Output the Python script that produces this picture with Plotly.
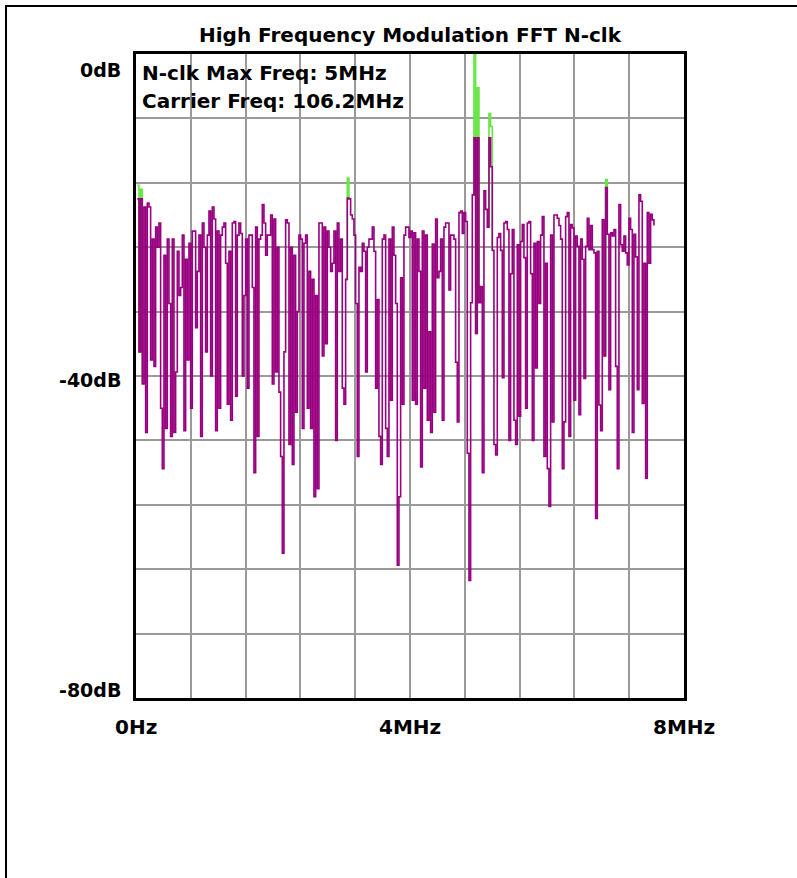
import numpy as np
import plotly.graph_objects as go

# ---------------- data ----------------
START_MHZ = 0.019          # first FFT bin shown
BIN_MHZ = 0.02433          # FFT bin width

level_db_a = [-18, -37, -18, -41, -19, -47, -18.5, -19, -38, -23,
              -38.8, -21.5, -24, -21, -44, -51.5, -25, -46.5, -23, -31,
              -47.5, -23, -47, -39.5, -24.5, -30, -29, -22.5, -46.8, -25.5,
              -38, -23.5, -44, -22, -22, -34, -27, -22.5, -47.5, -21,
              -24, -37, -22.5, -19.5, -40, -19, -20.5, -46.8, -22, -44,
              -22.5, -21.5, -21, -26, -43.5, -24.5, -45.5, -21, -20.8, -42.5,
              -22.5, -21, -22.3, -40, -30, -23, -41.5, -22.5, -22.5, -29,
              -52, -21.5, -47.5, -23, -22.5, -18.7, -21, -25, -22.5, -22.5]
level_db_b = [-20, -41, -20.5, -39.5, -24, -42, -50, -62, -37, -20.6,
              -21, -48.5, -24, -51, -25, -44.5, -32, -22.5, -23, -46.5,
              -23.5, -22.5, -44, -27, -46.5, -28, -55, -30, -54, -21,
              -21, -37.5, -21.5, -36, -22, -24, -27, -26, -22, -48,
              -21, -27, -23, -41.5, -43.5, -28, -17.9, -18, -20, -20.5,
              -22.5, -31, -50, -26.5, -27, -23.5, -24.5, -39.5, -24, -23,
              -23, -21.5, -24.5, -41.5, -30.5, -47.5, -51, -23, -22.5, -46.5,
              -50, -23, -43, -21.5, -25, -31, -63.5]
level_db_c = [-55, -27.8, -43.5, -22.5, -21.5, -21.5, -22.8, -22, -43, -22.2,
              -43.5, -23, -27, -51.3, -22, -41.5, -22.5, -45.5, -34.5, -47,
              -23.6, -44.5, -20.5, -27.8, -27, -23, -45.5, -21.5, -21, -21,
              -29.3, -22.5, -22.5, -23, -38.3, -45.7, -19.7, -19.5, -22.3, -19.7,
              -20.8, -49.6, -65.4, -30.9, -17.5, -10.4, -34.7, -10.4, -30.9, -28.9,
              -52, -17, -19.3, -21.5, -10.4, -14, -24.4, -48.5, -49.8, -22.8,
              -22.3, -24.4, -40.2, -21, -20.8, -21.8, -48, -27.3, -21.8, -45.5,
              -48.5, -23.7, -45, -23.3, -21.2, -25.3, -44, -21, -20.8, -27.3]
level_db_d = [-48, -23.5, -39, -23.3, -31, -22.5, -20.2, -50, -26, -51.5,
              -56.2, -22.5, -45.7, -20, -20, -20.4, -21.3, -23, -51.5, -45.7,
              -20.2, -19.7, -47.5, -21.2, -21.6, -43, -22.6, -23.9, -44.8, -23,
              -25.5, -40.3, -23.9, -20.4, -24.3, -21.3, -24.3, -24.7, -57.7, -24.5,
              -43.6, -46.8, -20.6, -37.5, -16.6, -22.4, -41.7, -22.2, -22.6, -21.8,
              -38.8, -51.5, -18.7, -23.7, -24.5, -22.6, -24.7, -26.2, -20.4, -21.8,
              -47, -22.4, -25.2, -41.7, -17.5, -18.3, -43.4, -26, -52.7, -19.7,
              -26, -19.9, -20.6, -21.3]

# peak-hold (green) values that rise above the live trace
peak_hold_bins = [0, 2, 126, 202, 204, 211, 212, 281]
peak_hold_db = [-16.3, -16.8, -15.4, 0, -4.2, -7.4, -9, -15.6]

x_tick_vals = [0, 4, 8]
x_tick_text = ["0Hz", "4MHz", "8MHz"]
y_tick_vals = [-2, -40.5, -79]
y_tick_text = ["0dB", "-40dB", "-80dB"]

title_text = "High Frequency Modulation FFT N-clk"
info_lines = ["N-clk Max Freq: 5MHz", "Carrier Freq: 106.2MHz"]

# ---------------- build ----------------
level_db = level_db_a + level_db_b + level_db_c + level_db_d
freq_mhz = START_MHZ + BIN_MHZ * np.arange(len(level_db))

# green peak-hold trace: only shown around the bins where it exceeds the live trace
hold_db = [None] * len(level_db)
for b, v in zip(peak_hold_bins, peak_hold_db):
    for nb in (b - 1, b + 1):
        if 0 <= nb < len(level_db) and hold_db[nb] is None:
            hold_db[nb] = level_db[nb]
    hold_db[b] = v

MAGENTA = "#990080"
GREEN = "#66e644"
GRID = "#9a9a9a"
FONT = "DejaVu Sans"

fig = go.Figure()
fig.add_trace(go.Scatter(x=freq_mhz, y=hold_db, mode="lines", connectgaps=False,
                         line=dict(color=GREEN, width=1.6, shape="hv"),
                         hoverinfo="skip"))
fig.add_trace(go.Scatter(x=freq_mhz, y=level_db, mode="lines",
                         line=dict(color=MAGENTA, width=1.6, shape="hv"),
                         hoverinfo="skip"))

axis_common = dict(showgrid=True, gridcolor=GRID, gridwidth=1.5,
                   showticklabels=False, ticks="", zeroline=False,
                   showline=True, linecolor="black", linewidth=2.5, mirror=True,
                   fixedrange=True)
fig.update_xaxes(range=[0, 8], tick0=0, dtick=0.8, **axis_common)
fig.update_yaxes(range=[-80, 0], tick0=0, dtick=8, **axis_common)

ann = []
ann.append(dict(text="<b>" + title_text + "</b>", xref="paper", yref="paper",
                x=0.5, y=1.0295, xanchor="center", yanchor="middle",
                showarrow=False, font=dict(family=FONT, size=20, color="black")))
for i, line in enumerate(info_lines):
    ann.append(dict(text="<b>" + line + "</b>", xref="paper", yref="paper",
                    x=0.008, y=0.9705 - i * 0.043, xanchor="left", yanchor="middle",
                    showarrow=False, font=dict(family=FONT, size=20, color="black")))
for v, t in zip(y_tick_vals, y_tick_text):
    ann.append(dict(text="<b>" + t + "</b>", xref="paper", yref="y",
                    x=-0.024, y=v, xanchor="right", yanchor="middle",
                    showarrow=False, font=dict(family=FONT, size=19, color="black")))
for v, t in zip(x_tick_vals, x_tick_text):
    ann.append(dict(text="<b>" + t + "</b>", xref="x", yref="paper",
                    x=v, y=-0.0445, xanchor="center", yanchor="middle",
                    showarrow=False, font=dict(family=FONT, size=20, color="black")))

fig.update_layout(
    width=797, height=878,
    margin=dict(l=136, r=113, t=54, b=180),
    plot_bgcolor="white", paper_bgcolor="white",
    showlegend=False,
    annotations=ann,
    shapes=[dict(type="rect", xref="paper", yref="paper",
                 x0=-0.2372, x1=1.3, y0=-0.4, y1=1.0745,
                 line=dict(color="black", width=2), layer="above")],
)

fig.write_html("out.html", config={"displayModeBar": False},
               post_script="document.body.style.margin='0';")
